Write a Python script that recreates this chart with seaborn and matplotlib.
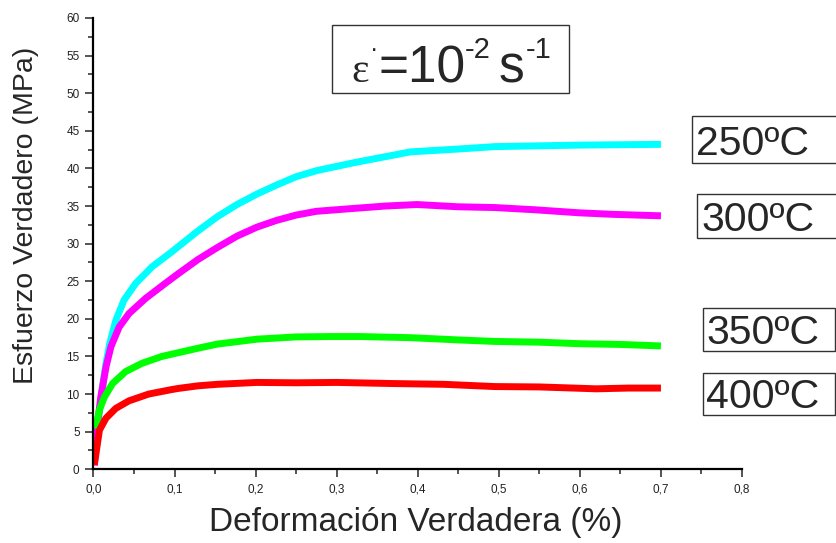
import numpy as np
import pandas as pd
import matplotlib
matplotlib.use("Agg")
import matplotlib.pyplot as plt
from matplotlib.patches import Rectangle
from matplotlib.ticker import MultipleLocator, FuncFormatter
import seaborn as sns

# ---- data ----
strain_250 = [0.003, 0.0065, 0.0105, 0.0154, 0.020, 0.0275, 0.0377, 0.0519, 0.072, 0.0964,
              0.129, 0.153, 0.177, 0.2017, 0.226, 0.250, 0.275, 0.323, 0.391, 0.453,
              0.495, 0.599, 0.700]
stress_250 = [3.0, 7.0, 10.5, 14.1, 16.7, 19.8, 22.5, 24.7, 26.9, 28.9,
              31.7, 33.6, 35.2, 36.6, 37.8, 38.9, 39.7, 40.8, 42.2, 42.6,
              42.9, 43.1, 43.2]

strain_300 = [0.001, 0.005, 0.009, 0.0154, 0.0215, 0.0316, 0.0437, 0.064, 0.0883, 0.1045,
              0.129, 0.153, 0.177, 0.2017, 0.226, 0.250, 0.275, 0.323, 0.360, 0.399,
              0.450, 0.495, 0.545, 0.599, 0.640, 0.700]
stress_300 = [0.5, 6.1, 9.6, 13.6, 16.3, 18.9, 20.7, 22.7, 24.7, 26.0,
              27.9, 29.5, 31.0, 32.2, 33.1, 33.8, 34.3, 34.7, 35.0, 35.2,
              34.9, 34.8, 34.5, 34.1, 33.9, 33.7]

strain_350 = [0.0024, 0.0073, 0.0134, 0.0235, 0.0397, 0.060, 0.0842, 0.1045, 0.129, 0.153,
              0.2017, 0.250, 0.292, 0.329, 0.391, 0.450, 0.495, 0.550, 0.599, 0.650, 0.700]
stress_350 = [5.4, 7.9, 9.6, 11.4, 13.0, 14.1, 15.0, 15.5, 16.1, 16.65,
              17.3, 17.6, 17.65, 17.65, 17.5, 17.2, 17.0, 16.9, 16.7, 16.6, 16.4]

strain_400 = [0.001, 0.0073, 0.0154, 0.0275, 0.0437, 0.068, 0.0964, 0.1045, 0.129, 0.153,
              0.2017, 0.250, 0.300, 0.370, 0.432, 0.495, 0.550, 0.620, 0.660, 0.700]
stress_400 = [0.6, 5.2, 6.8, 8.1, 9.1, 10.0, 10.6, 10.75, 11.1, 11.3,
              11.55, 11.5, 11.55, 11.4, 11.3, 11.0, 10.95, 10.7, 10.8, 10.8]

temperatures = ["250ºC", "300ºC", "350ºC", "400ºC"]
colors = ["#00FFFF", "#FF00FF", "#00FF00", "#FF0000"]
x_label = "Deformación Verdadera (%)"
y_label = "Esfuerzo Verdadero (MPa)"
x_tick_labels = ["0,0", "0,1", "0,2", "0,3", "0,4", "0,5", "0,6", "0,7", "0,8"]

frames = []
for t, xs, ys in zip(temperatures,
                     [strain_250, strain_300, strain_350, strain_400],
                     [stress_250, stress_300, stress_350, stress_400]):
    frames.append(pd.DataFrame({"strain": xs, "stress": ys, "temp": t}))
df = pd.concat(frames, ignore_index=True)

# ---- style ----
sns.set_style("ticks")
plt.rcParams["font.family"] = ["Liberation Sans", "DejaVu Sans"]

W, H = 837, 543
fig = plt.figure(figsize=(W / 100, H / 100), dpi=100)
ax = fig.add_axes([93.5 / W, 1 - 469.3 / H, (742 - 93.5) / W, (469.3 - 18) / H])

sns.lineplot(data=df, x="strain", y="stress", hue="temp",
             palette=dict(zip(temperatures, colors)), estimator=None,
             sort=False, linewidth=5.0, legend=False, ax=ax,
             solid_capstyle="butt", solid_joinstyle="round")

ax.set_xlim(0, 0.8)
ax.set_ylim(0, 60)
ax.set_xticks(np.arange(0, 0.81, 0.1))
ax.set_xticklabels(x_tick_labels)
ax.xaxis.set_minor_locator(MultipleLocator(0.05))
ax.yaxis.set_major_locator(MultipleLocator(5))
ax.yaxis.set_minor_locator(MultipleLocator(2.5))
ax.yaxis.set_major_formatter(FuncFormatter(lambda v, p: f"{v:.0f}"))
ax.tick_params(which="major", length=6, width=1.1, labelsize=8.5,
               labelcolor="#222222", direction="out", pad=4)
ax.tick_params(which="minor", length=3.5, width=1.1, direction="out")
for s in ["top", "right"]:
    ax.spines[s].set_visible(False)
for s in ["left", "bottom"]:
    ax.spines[s].set_linewidth(1.6)
    ax.spines[s].set_color("black")
ax.set_xlabel("")
ax.set_ylabel("")

def fx(px):
    return px / W

def fy(py):
    return 1 - py / H

fig.text(fx(416), fy(531), x_label, fontsize=24, ha="center", va="baseline")
fig.text(fx(26), fy(215), y_label, fontsize=20.5, rotation=90,
         ha="center", va="center")

# strain-rate box
fig.patches.append(Rectangle((fx(332), fy(93)), (569 - 332) / W, (93 - 25) / H,
                             transform=fig.transFigure, fill=False,
                             edgecolor="#333333", lw=1.0))
rate_parts = [("ε", 351, 82, 30, "Liberation Serif"),
              ("·", 370, 57, 18, "Liberation Sans"),
              ("=10", 379, 82, 37, "Liberation Sans"),
              ("-2", 465, 58, 21, "Liberation Sans"),
              ("s", 499, 82, 37, "Liberation Sans"),
              ("-1", 526, 58, 21, "Liberation Sans")]
for txt, px, py, fs, fam in rate_parts:
    fig.text(fx(px), fy(py), txt, fontsize=fs, ha="left", va="baseline",
             family=[fam, "DejaVu Sans"])

# temperature boxes
boxes = [(692, 116, 837, 163, 696, 155),
         (697, 194, 837, 238, 701, 231),
         (703, 308, 835, 351, 706, 344),
         (703, 373, 835, 415, 706, 408)]
for t, (x0, y0, x1, y1, tx, ty) in zip(temperatures, boxes):
    fig.patches.append(Rectangle((fx(x0), fy(y1)), (x1 - x0) / W, (y1 - y0) / H,
                                 transform=fig.transFigure, fill=False,
                                 edgecolor="#333333", lw=1.0))
    fig.text(fx(tx), fy(ty), t, fontsize=29.5, ha="left", va="baseline")

fig.savefig("out.png", dpi=100, facecolor="white")
